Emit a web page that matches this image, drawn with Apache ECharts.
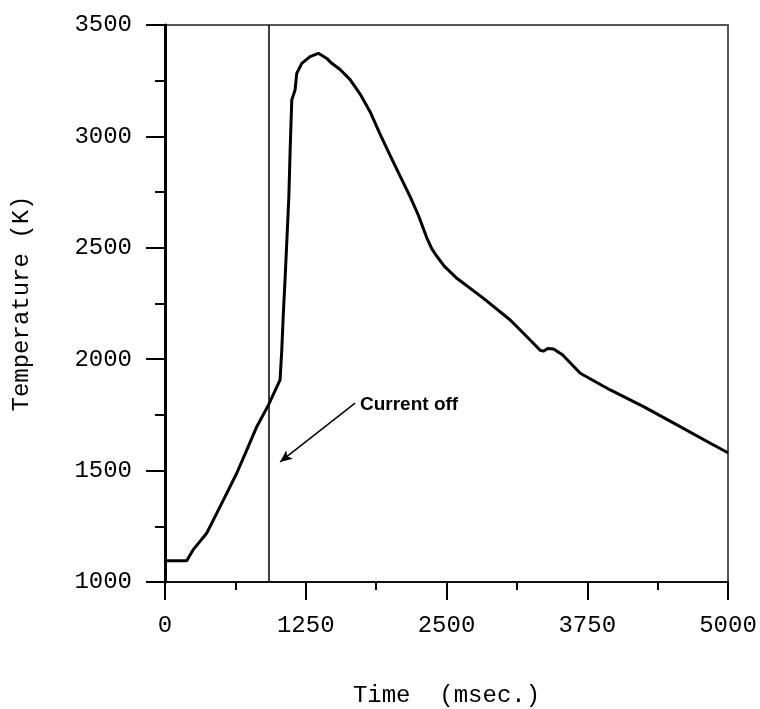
<!DOCTYPE html>
<html>
<head>
<meta charset="utf-8">
<script src="https://cdn.jsdelivr.net/npm/echarts@6/dist/echarts.min.js"></script>
<style>
  html, body { margin: 0; padding: 0; background: #fff; }
  #main { width: 760px; height: 709px; }
</style>
</head>
<body>
<div id="main"></div>
<script>
// temperature trace
var times = [0, 100, 193, 249, 370, 459, 548, 637, 726, 815, 918, 1022, 1037, 1051, 1066, 1081, 1100, 1112, 1126,
  1155, 1170, 1215, 1288, 1362, 1437, 1481, 1555, 1644, 1733, 1822, 1910, 1999, 2088, 2177, 2251, 2325, 2370,
  2414, 2480, 2592, 2829, 3066, 3214, 3332, 3360, 3400, 3450, 3530, 3688, 3954, 4250, 4547, 4843, 5000];
var temps = [1095, 1095, 1095, 1144, 1219, 1308, 1398, 1488, 1592, 1697, 1794, 1907, 2041, 2206, 2356, 2520, 2729, 2950, 3164,
  3208, 3283, 3328, 3358, 3373, 3350, 3328, 3300, 3255, 3190, 3110, 3010, 2915, 2822, 2730, 2645, 2545, 2495,
  2462, 2418, 2363, 2273, 2176, 2101, 2040, 2036, 2048, 2046, 2020, 1937, 1862, 1787, 1705, 1623, 1580];

var currentOffTime = 918;
var arrowFrom = [1688, 1803];
var arrowTo = [1022, 1539];
var annotation = 'Current off';

var xTicks = [0, 1250, 2500, 3750, 5000];
var yTicks = [1000, 1500, 2000, 2500, 3000, 3500];

var monoFont = '"Liberation Mono", "Courier New", monospace';

var myChart = echarts.init(document.getElementById('main'));
myChart.setOption({
  animation: false,
  backgroundColor: '#fff',
  grid: {
    left: 165, right: 32, top: 25, bottom: 127,
    outerBoundsMode: 'none',
    containLabel: false,
    show: true,
    borderColor: '#555',
    borderWidth: 2
  },
  xAxis: {
    type: 'value',
    min: xTicks[0],
    max: xTicks[xTicks.length - 1],
    interval: 1250,
    name: 'Time  (msec.)',
    nameLocation: 'middle',
    nameGap: 102,
    nameTextStyle: { fontFamily: monoFont, fontSize: 24, color: '#000' },
    axisLine: { show: true, lineStyle: { color: '#111', width: 2 } },
    axisTick: { show: true, inside: false, length: 18, lineStyle: { color: '#000', width: 2 } },
    minorTick: { show: true, splitNumber: 2, length: 8, lineStyle: { color: '#000', width: 2 } },
    splitLine: { show: false },
    axisLabel: {
      margin: 32, fontFamily: monoFont, fontSize: 24, color: '#000',
      formatter: function (v) { return String(v); }
    }
  },
  yAxis: {
    type: 'value',
    min: yTicks[0],
    max: yTicks[yTicks.length - 1],
    interval: 500,
    name: 'Temperature (K)',
    nameLocation: 'middle',
    nameGap: 131,
    nameTextStyle: { fontFamily: monoFont, fontSize: 24, color: '#000' },
    axisLine: { show: true, lineStyle: { color: '#000', width: 3 } },
    axisTick: { show: true, inside: false, length: 19, lineStyle: { color: '#000', width: 2 } },
    minorTick: { show: true, splitNumber: 2, length: 10, lineStyle: { color: '#000', width: 2 } },
    splitLine: { show: false },
    axisLabel: {
      margin: 33, fontFamily: monoFont, fontSize: 24, color: '#000',
      formatter: function (v) { return String(v); }
    }
  },
  graphic: [{
    type: 'text',
    left: 360,
    top: 395,
    style: {
      text: annotation,
      font: 'bold 19px "Liberation Sans", Arial, sans-serif',
      fill: '#000'
    }
  }],
  series: [{
    type: 'line',
    data: times.map(function (t, i) { return [t, temps[i]]; }),
    showSymbol: false,
    smooth: false,
    lineStyle: { color: '#000', width: 3 },
    markLine: {
      silent: true,
      symbol: ['none', 'none'],
      label: { show: false },
      lineStyle: { color: '#000', width: 1.5, type: 'solid' },
      data: [
        { xAxis: currentOffTime },
        [
          { coord: arrowFrom, symbol: 'none' },
          { coord: arrowTo, symbol: 'arrow', symbolSize: [8, 12] }
        ]
      ]
    }
  }]
});
</script>
</body>
</html>
